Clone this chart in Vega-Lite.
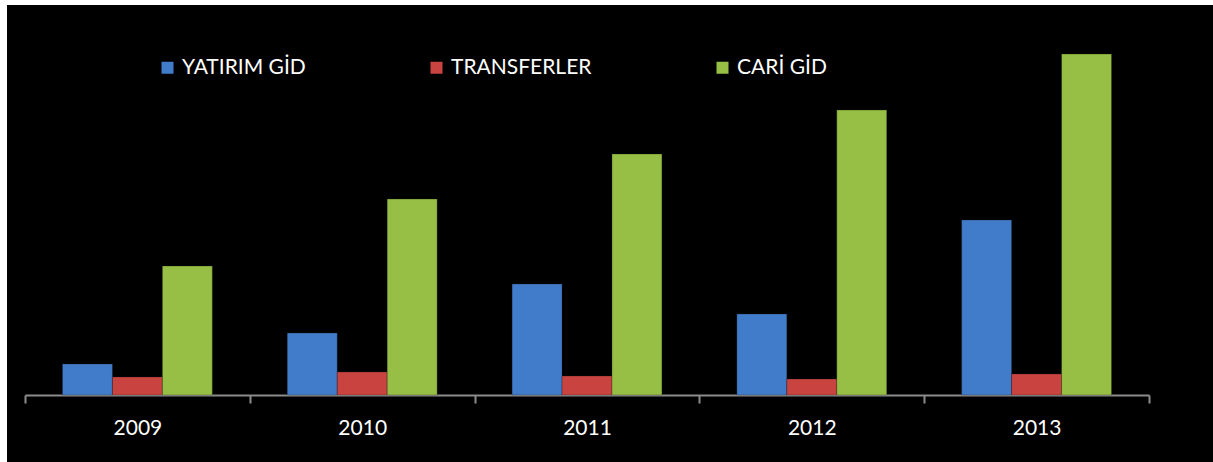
{
  "$schema": "https://vega.github.io/schema/vega-lite/v6.json",
  "width": 1206,
  "height": 457,
  "autosize": {"type": "none"},
  "padding": {"left": 7, "top": 5, "right": 0, "bottom": 0},
  "background": "white",
  "config": {"view": {"fill": "black", "stroke": null}, "font": "Lato"},
  "data": {
    "values": [
      {"year": "2009", "series": "YATIRIM GİD", "value": 31},
      {"year": "2009", "series": "TRANSFERLER", "value": 18},
      {"year": "2009", "series": "CARİ GİD", "value": 129},
      {"year": "2010", "series": "YATIRIM GİD", "value": 62},
      {"year": "2010", "series": "TRANSFERLER", "value": 23},
      {"year": "2010", "series": "CARİ GİD", "value": 196},
      {"year": "2011", "series": "YATIRIM GİD", "value": 111},
      {"year": "2011", "series": "TRANSFERLER", "value": 19},
      {"year": "2011", "series": "CARİ GİD", "value": 241},
      {"year": "2012", "series": "YATIRIM GİD", "value": 81},
      {"year": "2012", "series": "TRANSFERLER", "value": 16},
      {"year": "2012", "series": "CARİ GİD", "value": 285},
      {"year": "2013", "series": "YATIRIM GİD", "value": 175},
      {"year": "2013", "series": "TRANSFERLER", "value": 21},
      {"year": "2013", "series": "CARİ GİD", "value": 341}
    ]
  },
  "mark": {"type": "bar", "stroke": "#1a1a1a", "strokeWidth": 0.5, "strokeOpacity": 0.6},
  "encoding": {
    "x": {
      "field": "year",
      "type": "nominal",
      "scale": {"range": [18, 1142], "paddingInner": 0, "paddingOuter": 0},
      "axis": {
        "orient": "bottom",
        "offset": -67,
        "tickBand": "extent",
        "domainColor": "#8c8c8c",
        "domainWidth": 2,
        "tickColor": "#8c8c8c",
        "tickWidth": 2,
        "tickSize": 8,
        "labelColor": "white",
        "labelFont": "Lato",
        "labelFontSize": 21,
        "labelPadding": 14,
        "labelAngle": 0,
        "title": null,
        "grid": false
      }
    },
    "xOffset": {
      "field": "series",
      "type": "nominal",
      "sort": ["YATIRIM GİD", "TRANSFERLER", "CARİ GİD"],
      "scale": {"paddingInner": 0, "paddingOuter": 0.75}
    },
    "y": {
      "field": "value",
      "type": "quantitative",
      "scale": {"domain": [-67, 390], "nice": false, "zero": false},
      "axis": null
    },
    "y2": {"datum": 0},
    "color": {
      "field": "series",
      "type": "nominal",
      "sort": ["YATIRIM GİD", "TRANSFERLER", "CARİ GİD"],
      "scale": {
        "domain": ["YATIRIM GİD", "TRANSFERLER", "CARİ GİD"],
        "range": ["#417ccb", "#c94340", "#97bf45"]
      },
      "legend": {
        "orient": "none",
        "legendX": 150,
        "legendY": 52,
        "direction": "horizontal",
        "title": null,
        "symbolType": "square",
        "symbolSize": 144,
        "symbolStrokeWidth": 0,
        "labelColor": "white",
        "labelFont": "Lato",
        "labelFontSize": 21,
        "labelOffset": 4,
        "columnPadding": 120
      }
    }
  }
}
